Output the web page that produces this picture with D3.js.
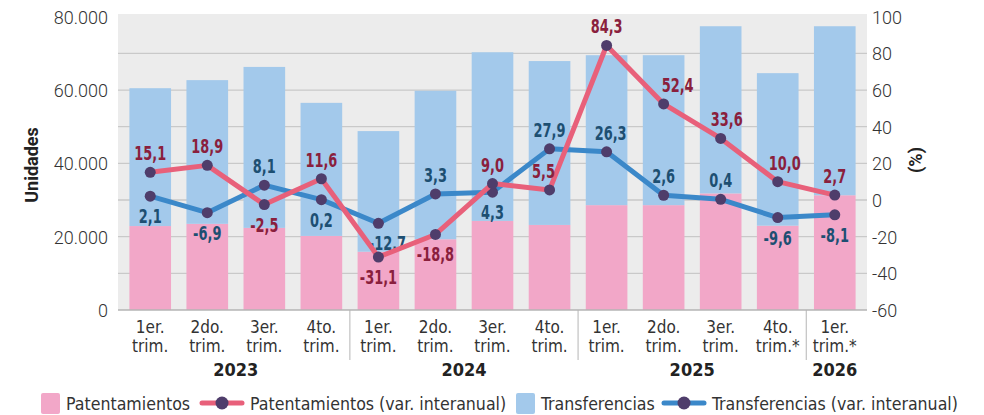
<!DOCTYPE html>
<html>
<head>
<meta charset="utf-8">
<script src="https://cdn.jsdelivr.net/npm/d3@7"></script>
<style>
  body { margin: 0; background: #fff; }
  svg text { font-family: "DejaVu Sans", sans-serif; font-stretch: condensed; }
</style>
</head>
<body>
<div id="grafico"></div>
<script>
// datos del grafico
var trimestres = ["1er. trim.", "2do. trim.", "3er. trim.", "4to. trim.",
                  "1er. trim.", "2do. trim.", "3er. trim.", "4to. trim.",
                  "1er. trim.", "2do. trim.", "3er. trim.", "4to. trim.*",
                  "1er. trim.*"];
var anios = ["2023", "2023", "2023", "2023", "2024", "2024", "2024", "2024",
             "2025", "2025", "2025", "2025", "2026"];

var patentamientos = [22900, 23500, 22400, 20200, 15900, 19300, 24300, 23200,
                      28600, 28600, 31800, 23000, 31300];
var transferencias = [37600, 39200, 43900, 36300, 32900, 40500, 46000, 44700,
                      40900, 40900, 45600, 41600, 46100];

var varPatentamientos = [15.1, 18.9, -2.5, 11.6, -31.1, -18.8, 9.0, 5.5,
                         84.3, 52.4, 33.6, 10.0, 2.7];
var varTransferencias = [2.1, -6.9, 8.1, 0.2, -12.7, 3.3, 4.3, 27.9,
                         26.3, 2.6, 0.4, -9.6, -8.1];

var ticksIzq = [0, 20000, 40000, 60000, 80000];
var ticksDer = [-60, -40, -20, 0, 20, 40, 60, 80, 100];

// donde va cada etiqueta (arriba / abajo del punto)
var ladoPat = ["a", "a", "b", "a", "b", "b", "a", "a", "a", "a", "a", "a", "a"];
var ladoTra = ["b", "b", "a", "b", "b", "a", "b", "a", "a", "a", "a", "b", "b"];
var corrX = { pat: { 7: -6, 9: 14, 10: 6, 11: 7 }, tra: { 4: 9, 8: 4 } };

var colores = {
    pat: "#f2a7c8", tra: "#a3c9eb",
    linPat: "#e8607a", linTra: "#3b88c9",
    punto: "#4f3d6b",
    txtPat: "#8a1f3d", txtTra: "#1d4f72"
};

var width = 984, height = 415;
var izq = 118, der = 867, arriba = 14, abajo = 310;

var svg = d3.select("#grafico").append("svg")
    .attr("width", width)
    .attr("height", height);

var x = d3.scaleBand()
    .domain(d3.range(trimestres.length))
    .range([izq, der])
    .paddingInner(0.27)
    .paddingOuter(0.2);

var yIzq = d3.scaleLinear().domain([0, 80000]).range([abajo, 16.7]);
var yDer = d3.scaleLinear().domain([-60, 100]).range([abajo, 16.7]);

// fondo
svg.append("rect")
    .attr("x", izq).attr("y", arriba)
    .attr("width", der - izq).attr("height", abajo - arriba)
    .style("fill", "#ececec");

// lineas de grilla
svg.selectAll(".grilla")
    .data(ticksDer.filter(function(d) { return d > -60 && d < 100; }))
    .enter().append("line")
    .attr("x1", izq).attr("x2", der)
    .attr("y1", function(d) { return yDer(d); })
    .attr("y2", function(d) { return yDer(d); })
    .style("stroke", "#c9c9c9")
    .style("stroke-width", 1.3);

// barras apiladas
var tabla = trimestres.map(function(t, i) {
    return { i: i, pat: patentamientos[i], tra: transferencias[i] };
});
var pila = d3.stack().keys(["pat", "tra"])(tabla);

svg.selectAll(".serie")
    .data(pila)
    .enter().append("g")
    .style("fill", function(d) { return colores[d.key]; })
    .selectAll("rect")
    .data(function(d) { return d; })
    .enter().append("rect")
    .attr("x", function(d) { return x(d.data.i); })
    .attr("width", x.bandwidth())
    .attr("y", function(d) { return yIzq(d[1]); })
    .attr("height", function(d) { return yIzq(d[0]) - yIzq(d[1]); });

// eje inferior
svg.append("line")
    .attr("x1", izq).attr("x2", der)
    .attr("y1", abajo).attr("y2", abajo)
    .style("stroke", "#b5b5b5").style("stroke-width", 1.5);

// separadores de anios
var cortes = [];
for (var i = 1; i < anios.length; i++) {
    if (anios[i] != anios[i - 1]) cortes.push(i);
}
svg.selectAll(".corte")
    .data(cortes)
    .enter().append("line")
    .attr("x1", function(d) { return x(d) - x.step() * x.paddingInner() / 2; })
    .attr("x2", function(d) { return x(d) - x.step() * x.paddingInner() / 2; })
    .attr("y1", abajo).attr("y2", 360)
    .style("stroke", "#b5b5b5").style("stroke-width", 1);

// etiquetas trimestres
trimestres.forEach(function(t, i) {
    var partes = t.split(" ");
    var txt = svg.append("text")
        .attr("x", x(i) + x.bandwidth() / 2)
        .attr("text-anchor", "middle")
        .style("font-size", "17px")
        .style("fill", "#333");
    txt.append("tspan").attr("x", x(i) + x.bandwidth() / 2).attr("y", 333).text(partes[0]);
    txt.append("tspan").attr("x", x(i) + x.bandwidth() / 2).attr("y", 352).text(partes[1]);
});

// etiquetas anios
var grupos = d3.groups(d3.range(anios.length), function(i) { return anios[i]; });
svg.selectAll(".anio")
    .data(grupos)
    .enter().append("text")
    .attr("x", function(d) {
        var a = d[1][0], b = d[1][d[1].length - 1];
        return (x(a) + x(b) + x.bandwidth()) / 2;
    })
    .attr("y", 376)
    .attr("text-anchor", "middle")
    .style("font-size", "18px")
    .style("font-weight", "bold")
    .style("fill", "#222")
    .text(function(d) { return d[0]; });

// eje izquierdo
var fmt = d3.formatLocale({ decimal: ",", thousands: ".", grouping: [3], currency: ["$", ""] }).format(",.0f");
svg.selectAll(".tickIzq")
    .data(ticksIzq)
    .enter().append("text")
    .attr("x", 108)
    .attr("y", function(d) { return yIzq(d) + 7; })
    .attr("text-anchor", "end")
    .style("font-family", "Roboto, sans-serif")
    .style("font-stretch", "normal")
    .style("font-weight", 300)
    .style("font-size", "18px")
    .style("fill", "#333")
    .text(function(d) { return fmt(d); });

// eje derecho
svg.selectAll(".tickDer")
    .data(ticksDer)
    .enter().append("text")
    .attr("x", 872)
    .attr("y", function(d) { return yDer(d) + 7; })
    .attr("text-anchor", "start")
    .style("font-family", "Roboto, sans-serif")
    .style("font-stretch", "normal")
    .style("font-weight", 300)
    .style("font-size", "18px")
    .style("fill", "#333")
    .text(function(d) { return d; });

svg.append("text")
    .attr("transform", "translate(38,165) rotate(-90)")
    .attr("text-anchor", "middle")
    .style("font-family", "Roboto, sans-serif")
    .style("font-stretch", "normal")
    .style("font-weight", "bold")
    .style("font-size", "18px")
    .style("fill", "#222")
    .text("Unidades");

svg.append("text")
    .attr("transform", "translate(922,160) rotate(-90)")
    .attr("text-anchor", "middle")
    .style("font-family", "Roboto, sans-serif")
    .style("font-stretch", "normal")
    .style("font-weight", "bold")
    .style("font-size", "18px")
    .style("fill", "#222")
    .text("(%)");

// lineas de variacion
function dibujarSerie(valores, colorLinea, colorTxt, lados, corr) {
    var linea = d3.line()
        .x(function(d, i) { return x(i) + x.bandwidth() / 2; })
        .y(function(d) { return yDer(d); });

    svg.append("path")
        .datum(valores)
        .attr("d", linea)
        .style("fill", "none")
        .style("stroke", colorLinea)
        .style("stroke-width", 5)
        .style("stroke-linejoin", "round");

    svg.append("g").selectAll("circle")
        .data(valores)
        .enter().append("circle")
        .attr("cx", function(d, i) { return x(i) + x.bandwidth() / 2; })
        .attr("cy", function(d) { return yDer(d); })
        .attr("r", 5.5)
        .style("fill", colores.punto);

    // fuente angosta: se comprime en horizontal
    svg.append("g").selectAll("text")
        .data(valores)
        .enter().append("text")
        .attr("transform", function(d, i) {
            var px = x(i) + x.bandwidth() / 2 + (corr[i] || 0);
            var py = yDer(d) + (lados[i] == "a" ? -12 : 27);
            return "translate(" + px + "," + py + ") scale(0.72,1)";
        })
        .attr("text-anchor", "middle")
        .style("font-size", "20px")
        .style("font-weight", "bold")
        .style("fill", colorTxt)
        .text(function(d) { return d.toFixed(1).replace(".", ","); });
}

dibujarSerie(varTransferencias, colores.linTra, colores.txtTra, ladoTra, corrX.tra);
dibujarSerie(varPatentamientos, colores.linPat, colores.txtPat, ladoPat, corrX.pat);

// leyenda
var leyenda = [
    { tipo: "barra", color: colores.pat, x: 41, texto: "Patentamientos" },
    { tipo: "linea", color: colores.linPat, x: 202, texto: "Patentamientos (var. interanual)" },
    { tipo: "barra", color: colores.tra, x: 516, texto: "Transferencias" },
    { tipo: "linea", color: colores.linTra, x: 664, texto: "Transferencias (var. interanual)" }
];
var yLey = 403;
leyenda.forEach(function(l) {
    var g = svg.append("g");
    var xt;
    if (l.tipo == "barra") {
        g.append("rect")
            .attr("x", l.x).attr("y", yLey - 10)
            .attr("width", 19).attr("height", 21)
            .attr("rx", 2)
            .style("fill", l.color);
        xt = l.x + 25;
    } else {
        g.append("line")
            .attr("x1", l.x).attr("x2", l.x + 40)
            .attr("y1", yLey).attr("y2", yLey)
            .style("stroke", l.color)
            .style("stroke-width", 5)
            .style("stroke-linecap", "round");
        g.append("circle")
            .attr("cx", l.x + 20).attr("cy", yLey)
            .attr("r", 6.5)
            .style("fill", colores.punto);
        xt = l.x + 48;
    }
    g.append("text")
        .attr("x", xt).attr("y", yLey + 7)
        .style("font-size", "17.6px")
        .style("fill", "#333")
        .text(l.texto);
});
</script>
</body>
</html>
